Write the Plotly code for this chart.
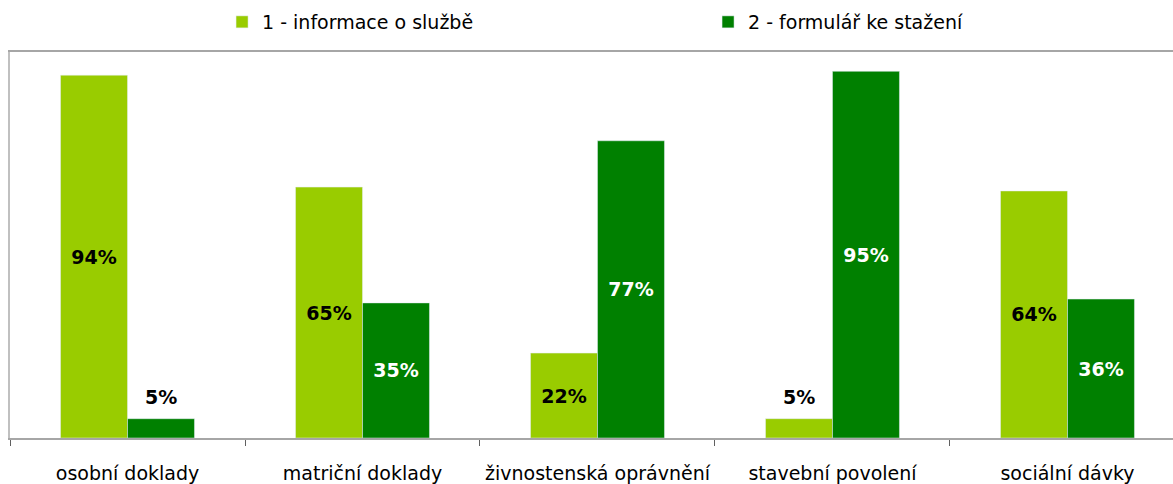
import plotly.graph_objects as go

categories = ["osobní doklady", "matriční doklady", "živnostenská oprávnění", "stavební povolení", "sociální dávky"]
series1_name = "1 - informace o službě"
series2_name = "2 - formulář ke stažení"
series1 = [94, 65, 22, 5, 64]
series2 = [5, 35, 77, 95, 36]

LIGHT = "#99CC00"
DARK = "#008000"
LINE = "#A6A6A6"
FONT = "DejaVu Sans, Liberation Sans, Arial"
BARGAP = 0.43
SMALL = 10  # values below this get their label above the bar

def inside_text(vals):
    return [f"{v}%" if v >= SMALL else "" for v in vals]

fig = go.Figure()
fig.add_trace(go.Bar(
    x=categories, y=series1, name=series1_name, marker_color=LIGHT,
    text=inside_text(series1), textposition="inside", insidetextanchor="middle",
    textfont=dict(family=FONT, size=19, color="black", weight="bold"),
))
fig.add_trace(go.Bar(
    x=categories, y=series2, name=series2_name, marker_color=DARK,
    text=inside_text(series2), textposition="inside", insidetextanchor="middle",
    textfont=dict(family=FONT, size=19, color="white", weight="bold"),
))

# labels above the short bars
half = (1 - BARGAP) / 4
for k, vals in enumerate([series1, series2]):
    for i, v in enumerate(vals):
        if v < SMALL:
            fig.add_annotation(
                x=i + (-half if k == 0 else half), y=v, xref="x", yref="y",
                text=f"<b>{v}%</b>", showarrow=False, yanchor="bottom", yshift=9,
                font=dict(family=FONT, size=19, color="black"),
            )

fig.update_layout(
    width=1173, height=484,
    margin=dict(l=10, r=0, t=52, b=46),
    paper_bgcolor="white", plot_bgcolor="white",
    barmode="group", bargap=BARGAP, bargroupgap=0,
    font=dict(family=FONT, size=19, color="black"),
    uniformtext=dict(mode=False),
    showlegend=True,
    legend=dict(
        orientation="h", xref="container", yref="container",
        x=0.1893, y=0.9545, xanchor="left", yanchor="middle",
        entrywidth=441, entrywidthmode="pixels",
        font=dict(family=FONT, size=19), traceorder="normal",
    ),
    xaxis=dict(
        range=[-0.5, 4.449], showline=True, linecolor=LINE, linewidth=2, mirror=True,
        ticks="outside", tickson="boundaries", ticklen=6, tickcolor="#606060",
        ticklabelstandoff=17, tickfont=dict(family=FONT, size=19),
        showgrid=False, zeroline=False,
    ),
    yaxis=dict(
        range=[0, 100], showline=True, linecolor="#C0C0C0", linewidth=2,
        showticklabels=False, ticks="", showgrid=False, zeroline=False,
    ),
)

fig.write_html(
    "out.html",
    config={"displayModeBar": False},
    post_script="document.body.style.margin='0';document.documentElement.style.overflow='hidden';",
)
